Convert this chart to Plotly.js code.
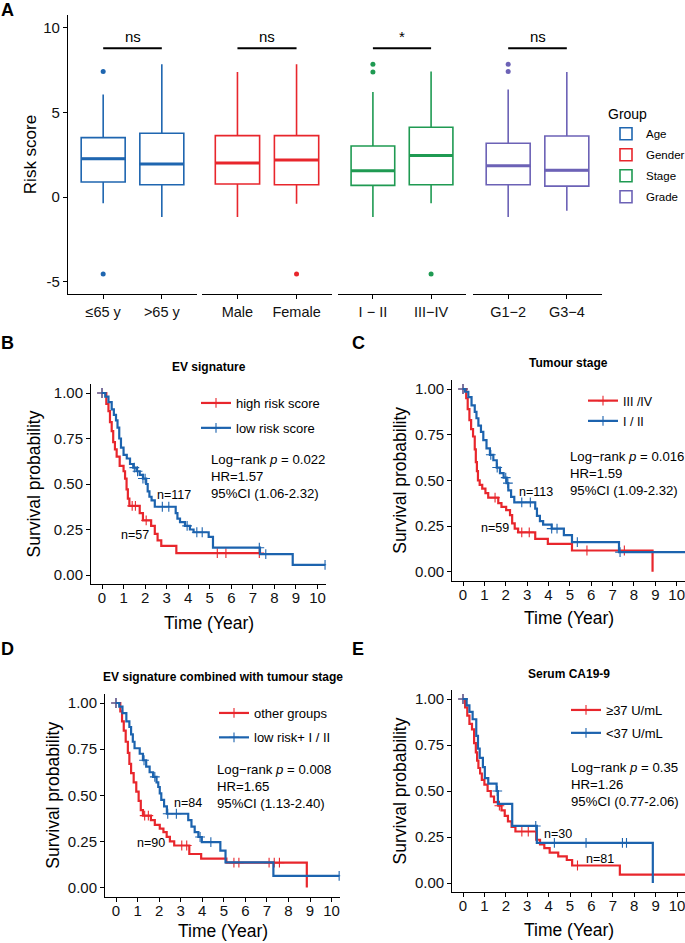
<!DOCTYPE html>
<html>
<head>
<meta charset="utf-8">
<script src="https://cdn.plot.ly/plotly-3.0.1.min.js"></script>
<style>html,body{margin:0;padding:0;background:#fff;overflow:hidden}</style>
</head>
<body>
<div id="fig"></div>
<script>
const W = 685, H = 943;
const FONT = 'Liberation Sans, Arial, sans-serif';

// ---------- panel A: risk score by clinical group ----------
const groupNames = ['Age', 'Gender', 'Stage', 'Grade'];
const groupColors = ['#1F66B0', '#E8262C', '#1F9A52', '#6C62B6'];
const boxLabels = [['≤65 y', '>65 y'], ['Male', 'Female'], ['I − II', 'III−IV'], ['G1−2', 'G3−4']];
const boxQ1 = [[0.89, 0.73], [0.77, 0.73], [0.69, 0.73], [0.73, 0.65]];
const boxMedian = [[2.27, 1.95], [2.01, 2.19], [1.56, 2.45], [1.85, 1.58]];
const boxQ3 = [[3.51, 3.77], [3.63, 3.63], [3.02, 4.12], [3.18, 3.61]];
const boxLow = [[-0.36, -1.18], [-1.18, -0.39], [-1.18, -0.36], [-1.18, -0.81]];
const boxHigh = [[6.05, 7.85], [7.38, 7.85], [6.21, 7.42], [6.35, 7.38]];
const outlierIdx = [[1, 1], [2], [1, 1, 2], [1, 1]];
const outlierVal = [[7.42, -4.54], [-4.54], [7.85, 7.38, -4.54], [7.85, 7.42]];
const sigText = ['ns', 'ns', '*', 'ns'];
const sigLevel = 8.78;

// ---------- panels B-E: Kaplan-Meier curves ----------
const B_high_t = [0, 0.2, 0.3, 0.37, 0.45, 0.52, 0.6, 0.68, 0.82, 1.0, 1.07, 1.14, 1.2, 1.27, 1.75, 1.9, 2.28, 2.45, 2.58, 2.75, 3.45];
const B_high_s = [1, 0.94, 0.9, 0.84, 0.79, 0.73, 0.69, 0.65, 0.6, 0.57, 0.53, 0.47, 0.42, 0.38, 0.34, 0.3, 0.27, 0.226, 0.19, 0.16, 0.12];
const B_high_cens = [1.4, 1.55, 2.05, 5.35, 5.75, 7.3];
const B_high_end = 7.3;
const B_low_t = [0, 0.15, 0.3, 0.45, 0.55, 0.65, 0.72, 0.8, 0.88, 1.0, 1.15, 1.3, 1.45, 1.6, 1.75, 1.9, 2.05, 2.12, 2.2, 2.3, 2.45, 3.42, 3.5, 3.62, 3.85, 4.08, 4.25, 4.95, 5.15, 7.33, 8.85];
const B_low_s = [1, 0.98, 0.95, 0.91, 0.88, 0.85, 0.81, 0.75, 0.7, 0.66, 0.64, 0.61, 0.59, 0.57, 0.55, 0.53, 0.5, 0.46, 0.43, 0.41, 0.375, 0.34, 0.31, 0.29, 0.27, 0.25, 0.235, 0.21, 0.15, 0.115, 0.056];
const B_low_cens = [1.5, 1.65, 1.9, 2.0, 2.8, 3.1, 3.95, 4.4, 4.65, 7.3, 7.6, 10.35];
const B_low_end = 10.35;

const C_red_t = [0, 0.15, 0.22, 0.3, 0.38, 0.47, 0.55, 0.6, 0.65, 0.7, 0.78, 0.9, 1.05, 1.18, 1.65, 1.8, 2.02, 2.2, 2.3, 2.42, 2.58, 3.38, 3.97, 5.1, 8.87];
const C_red_s = [1, 0.95, 0.89, 0.83, 0.78, 0.74, 0.67, 0.6, 0.55, 0.5, 0.475, 0.455, 0.43, 0.405, 0.375, 0.355, 0.337, 0.31, 0.265, 0.236, 0.215, 0.18, 0.152, 0.116, 0];
const C_red_cens = [1.5, 2.75, 3.1, 5.8, 7.55];
const C_red_end = 8.87;
const C_blue_t = [0, 0.1, 0.25, 0.4, 0.55, 0.63, 0.72, 0.84, 0.95, 1.1, 1.26, 1.42, 1.58, 1.73, 1.9, 2.04, 2.12, 2.25, 2.4, 3.38, 3.46, 3.6, 3.75, 4.15, 4.72, 5.1, 7.3];
const C_blue_s = [1, 0.985, 0.955, 0.91, 0.875, 0.84, 0.8, 0.765, 0.72, 0.675, 0.64, 0.61, 0.57, 0.54, 0.515, 0.485, 0.445, 0.41, 0.38, 0.345, 0.305, 0.277, 0.258, 0.236, 0.2, 0.162, 0.107];
const C_blue_cens = [1.3, 1.6, 2.0, 2.1, 2.75, 3.15, 4.15, 4.4, 5.35, 7.35, 10.45];
const C_blue_end = 10.45;

const D_red_t = [0, 0.2, 0.28, 0.36, 0.45, 0.55, 0.62, 0.7, 0.82, 0.94, 1.05, 1.15, 1.25, 1.62, 1.8, 2.03, 2.2, 2.35, 2.5, 2.7, 3.4, 3.95, 5.12, 8.85];
const D_red_s = [1, 0.955, 0.9, 0.85, 0.79, 0.73, 0.67, 0.62, 0.57, 0.52, 0.47, 0.42, 0.39, 0.365, 0.34, 0.32, 0.3, 0.275, 0.25, 0.228, 0.182, 0.157, 0.135, 0];
const D_red_cens = [1.33, 1.5, 3.05, 3.28, 5.47, 5.7, 7.1, 7.34, 7.58];
const D_red_end = 8.85;
const D_blue_t = [0, 0.15, 0.3, 0.48, 0.62, 0.7, 0.78, 0.86, 1.1, 1.25, 1.4, 1.56, 1.72, 1.88, 1.96, 2.03, 2.1, 2.23, 2.36, 3.35, 3.5, 3.65, 3.82, 3.98, 4.84, 5.08, 7.3];
const D_blue_s = [1, 0.98, 0.945, 0.9, 0.87, 0.83, 0.79, 0.755, 0.725, 0.69, 0.655, 0.625, 0.6, 0.57, 0.545, 0.51, 0.475, 0.44, 0.4, 0.365, 0.33, 0.3, 0.274, 0.246, 0.2, 0.137, 0.064];
const D_blue_cens = [1.3, 1.8, 2.4, 2.8, 3.9, 4.4, 10.35];
const D_blue_end = 10.35;

const E_red_t = [0, 0.1, 0.2, 0.3, 0.42, 0.52, 0.6, 0.66, 0.72, 0.8, 0.88, 1.0, 1.15, 1.3, 1.45, 1.65, 1.8, 1.95, 2.1, 2.27, 2.45, 3.42, 3.6, 3.8, 4.05, 4.45, 4.85, 5.1, 7.33];
const E_red_s = [1, 0.955, 0.91, 0.865, 0.835, 0.76, 0.71, 0.665, 0.625, 0.595, 0.56, 0.535, 0.5, 0.47, 0.44, 0.42, 0.395, 0.365, 0.335, 0.305, 0.28, 0.235, 0.21, 0.19, 0.165, 0.145, 0.125, 0.095, 0.046];
const E_red_cens = [1.7, 2.75, 3.05, 5.35, 10.47];
const E_red_end = 10.47;
const E_blue_t = [0, 0.17, 0.3, 0.45, 0.62, 0.7, 0.78, 0.93, 1.02, 1.18, 1.57, 1.63, 2.3, 3.45, 8.87];
const E_blue_s = [1, 0.965, 0.93, 0.89, 0.8, 0.73, 0.68, 0.63, 0.57, 0.54, 0.5, 0.43, 0.31, 0.218, 0];
const E_blue_cens = [1.6, 3.4, 4.27, 5.75, 7.45, 7.64];
const E_blue_end = 8.87;

const RED = '#E8262C', BLUE = '#1C63AE';

// pixel helpers (figure is laid out in page pixels)
const fx = p => p / W;
const fy = p => 1 - p / H;

let traces = [];
let shapes = [];
let annotations = [];
let layout = {};

function paperText(xp, yp, text, size) {
    return {xref: 'paper', yref: 'paper', x: fx(xp), y: fy(yp), xanchor: 'center', yanchor: 'middle',
        text: text, showarrow: false, font: {size: size, color: '#000'}};
}

// ---------- panel A ----------
const facetPx = [[68, 197], [202, 332], [338, 466], [473, 602]];
const yA = {top: 15, bottom: 294, min: -5.72, max: 10.75};

groupNames.forEach((g, i) => {
    const xa = i === 0 ? 'x' : 'x' + (i + 1);
    const col = groupColors[i];
    traces.push({
        type: 'box', name: g, xaxis: xa, yaxis: 'y',
        x: [1, 2], q1: boxQ1[i], median: boxMedian[i], q3: boxQ3[i],
        lowerfence: boxLow[i], upperfence: boxHigh[i],
        width: 0.75, boxpoints: false,
        line: {color: col, width: 1.6}, fillcolor: 'rgba(255,255,255,0)',
        whiskerwidth: 0, legend: 'legend', legendgroup: g, hoverinfo: 'skip'
    });
    // thicker median bar, as in ggplot
    let mx = [], my = [];
    boxMedian[i].forEach((m, j) => { mx.push(j + 1 - 0.375, j + 1 + 0.375, null); my.push(m, m, null); });
    traces.push({type: 'scatter', mode: 'lines', x: mx, y: my, xaxis: xa, yaxis: 'y',
        line: {color: col, width: 3}, showlegend: false, hoverinfo: 'skip'});
    traces.push({type: 'scatter', mode: 'markers', x: outlierIdx[i], y: outlierVal[i], xaxis: xa, yaxis: 'y',
        marker: {color: col, size: 5}, showlegend: false, hoverinfo: 'skip'});

    layout['xaxis' + (i === 0 ? '' : i + 1)] = {
        domain: [fx(facetPx[i][0]), fx(facetPx[i][1])], anchor: 'y', range: [0.4, 2.6],
        tickmode: 'array', tickvals: [1, 2], ticktext: boxLabels[i],
        showline: true, linecolor: '#000', linewidth: 1.3, ticks: 'outside', ticklen: 4,
        tickcolor: '#000', tickfont: {size: 14.5, color: '#111'}, showgrid: false, zeroline: false
    };
    shapes.push({type: 'line', xref: xa, yref: 'y', x0: 1, x1: 2, y0: sigLevel, y1: sigLevel,
        line: {color: '#000', width: 2}});
    annotations.push({xref: xa, yref: 'y', x: 1.5, y: sigLevel, yanchor: 'bottom', yshift: 1,
        text: sigText[i], showarrow: false, font: {size: 15, color: '#000'}});
});
layout.yaxis = {
    domain: [fy(yA.bottom), fy(yA.top)], anchor: 'x', range: [yA.min, yA.max],
    tickvals: [-5, 0, 5, 10], ticktext: ['-5', '0', '5', '10'],
    showline: true, linecolor: '#000', linewidth: 1.3, ticks: 'outside', ticklen: 4, tickcolor: '#000',
    tickfont: {size: 15, color: '#111'}, showgrid: false, zeroline: false,
    title: {text: 'Risk score', font: {size: 17, color: '#000'}, standoff: 2}
};
layout.legend = {
    title: {text: 'Group', font: {size: 14, color: '#000'}},
    x: fx(606), y: fy(101), xanchor: 'left', yanchor: 'top',
    font: {size: 11.5, color: '#000'}, tracegroupgap: 2, bgcolor: 'rgba(0,0,0,0)'
};
annotations.push(paperText(7, 10, '<b>A</b>', 18));

// ---------- Kaplan-Meier panels ----------
function survAt(ts, ss, t) {
    let s = ss[0];
    for (let i = 0; i < ts.length; i++) if (ts[i] <= t) s = ss[i];
    return s;
}

function kmTrace(ts, ss, cens, tEnd, name, col, xa, ya, leg) {
    let pts = ts.map((t, i) => ({t: t, s: ss[i], c: i === 0}));
    cens.forEach(c => pts.push({t: c, s: survAt(ts, ss, c), c: true}));
    if (tEnd > ts[ts.length - 1] && !cens.includes(tEnd)) pts.push({t: tEnd, s: ss[ss.length - 1], c: false});
    pts.sort((a, b) => a.t - b.t);
    return {
        type: 'scatter', mode: 'lines+markers', name: name, xaxis: xa, yaxis: ya,
        x: pts.map(p => p.t), y: pts.map(p => p.s),
        line: {color: col, width: 2.2, shape: 'hv'},
        marker: {symbol: 'cross-thin', size: 7,
            line: {width: 1.1, color: pts.map(p => p.c ? col : 'rgba(0,0,0,0)')}},
        legend: leg, legendgroup: leg + name, hoverinfo: 'skip'
    };
}

const kmPanels = [
    {letter: 'B', title: 'EV signature', t0: 102, pxu: 21.55, s1: 393, s0: 575,
     curves: [[B_high_t, B_high_s, B_high_cens, B_high_end, 'high risk score', RED],
              [B_low_t, B_low_s, B_low_cens, B_low_end, 'low risk score', BLUE]],
     stats: ['0.022', '1.57', '1.06-2.32'], nText: ['n=57', 'n=117'],
     nPos: [[1.51, 0.22], [3.36, 0.44]], statPos: [4.97, 0.54],
     leg: {x: 236, y: 388, gap: 5, size: 13}, yStand: 8,
     letterPx: [8, 343], titleY: 367, xTitleY: 623},
    {letter: 'C', title: 'Tumour stage', t0: 463, pxu: 21.37, s1: 389, s0: 571.7,
     curves: [[C_red_t, C_red_s, C_red_cens, C_red_end, 'III /IV', RED],
              [C_blue_t, C_blue_s, C_blue_cens, C_blue_end, 'I / II', BLUE]],
     stats: ['0.016', '1.59', '1.09-2.32'], nText: ['n=59', 'n=113'],
     nPos: [[1.52, 0.24], [3.42, 0.436]], statPos: [4.91, 0.535],
     leg: {x: 623, y: 386, gap: 1, size: 12.5}, yStand: 3,
     letterPx: [358, 343], titleY: 363, xTitleY: 618},
    {letter: 'D', title: 'EV signature combined with tumour stage', t0: 116, pxu: 21.56, s1: 703, s0: 887.6,
     curves: [[D_red_t, D_red_s, D_red_cens, D_red_end, 'other groups', RED],
              [D_blue_t, D_blue_s, D_blue_cens, D_blue_end, 'low risk+ I / II', BLUE]],
     stats: ['0.008', '1.65', '1.13-2.40'], nText: ['n=90', 'n=84'],
     nPos: [[1.6, 0.243], [3.32, 0.46]], statPos: [4.61, 0.545],
     leg: {x: 254, y: 698, gap: 4.5, size: 13}, yStand: 3,
     letterPx: [8, 649], titleY: 677, xTitleY: 931},
    {letter: 'E', title: 'Serum CA19-9', t0: 463, pxu: 21.4, s1: 699, s0: 883,
     curves: [[E_red_t, E_red_s, E_red_cens, E_red_end, '≥37 U/mL', RED],
              [E_blue_t, E_blue_s, E_blue_cens, E_blue_end, '<37 U/mL', BLUE]],
     stats: ['0.35', '1.26', '0.77-2.06'], nText: ['n=81', 'n=30'],
     nPos: [[6.4, 0.13], [4.44, 0.268]], statPos: [4.95, 0.538],
     leg: {x: 606, y: 695, gap: 3, size: 13}, yStand: 3,
     letterPx: [358, 649], titleY: 674, xTitleY: 930}
];

kmPanels.forEach((p, k) => {
    const xn = k + 5, yn = k + 2;
    const xa = 'x' + xn, ya = 'y' + yn, leg = 'legend' + yn;
    const sc = p.s0 - p.s1;
    const left = p.t0 - 0.5 * p.pxu;
    const right = Math.min(W, p.t0 + 10.4 * p.pxu);
    const tMax = (right - p.t0) / p.pxu;
    layout['xaxis' + xn] = {
        domain: [fx(left), fx(right)], anchor: ya, range: [-0.5, tMax],
        tickmode: 'linear', tick0: 0, dtick: 1, ticklabelstandoff: -4, ticklabeloverflow: 'allow',
        showline: true, linecolor: '#000', linewidth: 1.3, ticks: 'outside', ticklen: 4, tickcolor: '#000',
        tickfont: {size: 15, color: '#111'}, showgrid: false, zeroline: false
    };
    layout['yaxis' + yn] = {
        domain: [fy(p.s0 + 0.05 * sc), fy(p.s1 - 0.05 * sc)], anchor: xa, range: [-0.05, 1.05],
        tickvals: [0, 0.25, 0.5, 0.75, 1], tickformat: '.2f',
        showline: true, linecolor: '#000', linewidth: 1.3, ticks: 'outside', ticklen: 4, tickcolor: '#000',
        tickfont: {size: 15, color: '#111'}, showgrid: false, zeroline: false,
        title: {text: 'Survival probability', font: {size: 17.5, color: '#000'}, standoff: p.yStand}
    };
    layout[leg] = {
        x: fx(p.leg.x - 40), y: fy(p.leg.y), xanchor: 'left', yanchor: 'top',
        font: {size: p.leg.size, color: '#000'}, tracegroupgap: p.leg.gap, bgcolor: 'rgba(0,0,0,0)'
    };
    p.curves.forEach(c => traces.push(kmTrace(c[0], c[1], c[2], c[3], c[4], c[5], xa, ya, leg)));

    const mid = (left + right) / 2;
    annotations.push(paperText(mid, p.xTitleY, 'Time (Year)', 17.5));
    annotations.push(paperText(mid, p.titleY, '<b>' + p.title + '</b>', 12));
    annotations.push(paperText(p.letterPx[0], p.letterPx[1], '<b>' + p.letter + '</b>', 18));
    // statistics and group sizes
    annotations.push({xref: xa, yref: ya, x: p.statPos[0], y: p.statPos[1], xanchor: 'left', yanchor: 'middle',
        align: 'left', showarrow: false, font: {size: 13.2, color: '#000'},
        text: 'Log−rank <i>p</i> = ' + p.stats[0] + '<br>HR=' + p.stats[1] + '<br>95%CI (' + p.stats[2] + ')'});
    p.nText.forEach((t, j) => annotations.push({xref: xa, yref: ya, x: p.nPos[j][0], y: p.nPos[j][1],
        xanchor: 'center', yanchor: 'middle', text: t, showarrow: false, font: {size: 12.5, color: '#000'}}));
});

Object.assign(layout, {
    width: W, height: H,
    margin: {l: 0, r: 0, t: 0, b: 0, autoexpand: false},
    paper_bgcolor: '#fff', plot_bgcolor: '#fff',
    font: {family: FONT, color: '#000'},
    showlegend: true,
    shapes: shapes,
    annotations: annotations
});

Plotly.newPlot('fig', traces, layout, {displayModeBar: false});
</script>
</body>
</html>
